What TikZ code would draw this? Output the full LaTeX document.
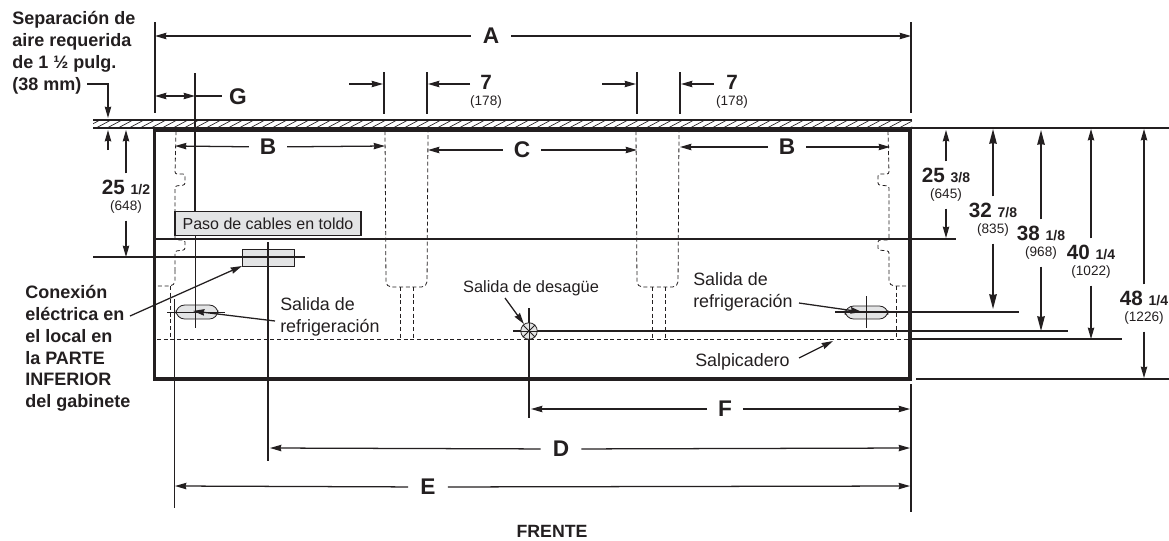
\documentclass[tikz,border=0pt]{standalone}
\usepackage{fontspec}
\setmainfont{Liberation Sans}
\usetikzlibrary{arrows.meta}
\definecolor{ink}{HTML}{231F20}
\definecolor{boxfill}{HTML}{E3E4E5}
\tikzset{
  thinln/.style={draw=ink,line width=.6pt},
  medln/.style={draw=ink,line width=1pt},
  wall/.style={draw=ink,line width=2.6pt},
  dim/.style={draw=ink,line width=.95pt,-{Stealth[length=8.5pt,width=4.8pt,inset=.6pt]}},
  dimB/.style={draw=ink,line width=1pt,-{Stealth[length=11pt,width=5.6pt,inset=.4pt]}},
  dimD/.style={draw=ink,line width=.95pt,{Stealth[length=8.5pt,width=4.8pt,inset=.6pt]}-{Stealth[length=8.5pt,width=4.8pt,inset=.6pt]}},
  hid/.style={draw=ink,line width=.6pt,dash pattern=on 3pt off 2pt},
  notes/.style={font=\fontsize{13.5}{16.4}\selectfont\bfseries,text=ink,align=left,inner sep=0pt},
  call/.style={font=\fontsize{13.4}{16.6}\selectfont,text=ink,align=left,inner sep=0pt},
  letter/.style={font=\fontsize{17}{20}\selectfont\bfseries,text=ink,inner sep=6pt},
  val/.style={text=ink,align=center,inner sep=5pt,font=\fontsize{10.2}{14}\selectfont},
}
\newcommand{\whole}[2]{{\fontsize{15.5}{15}\selectfont\bfseries #1 {\fontsize{10.5}{15}\selectfont #2}}}
\begin{document}
\begin{tikzpicture}[x=.75pt,y=-.75pt]
\useasboundingbox (0,0) rectangle (1169,540);
% reference coordinates
\coordinate (cL) at (154.5,130);
\coordinate (cR) at (910,379);
\coordinate (xL) at (155,36);
\coordinate (xR) at (911,36);
% hatched wall
\begin{scope}
\clip (93,120) rectangle (912,128);
\foreach \x in {85,96,...,915} \draw[thinln,line width=.5pt] (\x,128) -- (\x+15,120);
\end{scope}
\draw[thinln,line width=.8pt] (93,120) -- (912,120);
\draw[medln] (93,128) -- (1169,128);
% hidden outlines
\draw[hid,rounded corners=1.6pt] (176,131) -- (175,174) -- (185,174) -- (185,185) -- (175,186) -- (175,240) -- (185,240) -- (185,250) -- (175,251) -- (175,270);
\draw[hid,rounded corners=4pt] (175,270) -- (175,286) -- (157,286);
\draw[hid] (170,286) -- (170,339);
\draw[hid,rounded corners=1.6pt] (888,131) -- (889,174) -- (878,174) -- (878,185) -- (889,186) -- (889,240) -- (878,240) -- (878,250) -- (889,251) -- (889,270);
\draw[hid,rounded corners=4pt] (889,270) -- (889,286) -- (909,286);
\draw[hid] (896,286) -- (896,339);
\draw[hid,rounded corners=4pt] (385,131) -- (386,287) -- (427,287) -- (428,131);
\draw[hid,rounded corners=4pt] (636,131) -- (637,287) -- (678,287) -- (679,131);
\draw[hid] (400,287) -- (400,339) (413,287) -- (413,339);
\draw[hid] (652,287) -- (652,339) (665,287) -- (665,339);
\draw[hid] (157,339) -- (910,339);
% gray parts
\draw[thinln,fill=boxfill] (242,249) rectangle (294,266);
\draw[thinln,fill=boxfill,rounded corners=6.5pt] (176,305) rectangle (218,319);
\draw[thinln,fill=boxfill,rounded corners=6.5pt] (845,306) rectangle (888,319);
% cabinet
\draw[wall] (cL) rectangle (cR);
% extension lines
\draw[medln] (xL |- 0,22) -- (xL |- 0,113);
\draw[medln] (xR |- 0,22) -- (xR |- 0,113);
\draw[medln] (xR |- 0,384) -- (xR |- 0,512);
\foreach \x in {384,427,637,680} \draw[medln] (\x,72) -- (\x,114);
\draw[medln,line width=1.1pt] (195,73) -- (195,211);
\draw[thinln] (195,236) -- (195,328);
\draw[medln,line width=1.05pt] (268,242) -- (268,461);
\draw[thinln] (174,299) -- (174,508);
\draw[medln] (529,308) -- (529,418);
% horizontal reference lines
\draw[thinln,line width=.8pt] (155,239) -- (956,239);
\draw[medln,line width=1.1pt] (93,257) -- (305,257);
\draw[thinln,line width=.6pt] (167,312) -- (225,312);
\draw[medln] (835,312) -- (1019,312);
\draw[thinln] (866,296) -- (866,328);
\draw[medln] (513,331) -- (1068,331);
\draw[medln,line width=1.2pt] (910,339) -- (1122,339);
\draw[medln] (916,379) -- (1169,379);
% drain
\node[draw=ink,circle,line width=.6pt,fill=boxfill,minimum size=12.4pt,inner sep=0pt] (drain) at (529,331) {};
\foreach \a in {0,45,...,135} \draw[thinln] (drain.\a) -- (drain.\a+180);
% pass-through label
\node[draw=ink,line width=.8pt,fill=boxfill,inner sep=0pt,minimum width=139.5pt,minimum height=18.5pt,font=\fontsize{12}{14}\selectfont,text=ink] (paso) at (268,223.5) {Paso de cables en toldo};
% left notes
\node[notes,anchor=north west] (sep) at (12,11) {Separación de\\aire requerida\\de 1 ½ pulg.\\(38 mm)};
\node[notes,anchor=north west] (con) at (25,285) {Conexión\\eléctrica en\\el local en\\la PARTE\\INFERIOR\\del gabinete};
\coordinate (sepA) at (87,84);
\coordinate (sepB) at (108,84);
\coordinate (sepC) at (108,118);
\draw[dim] (sepA) -- (sepB) -- (sepC);
\coordinate (sepD) at (108,150);
\coordinate (sepE) at (108,130);
\draw[dim] (sepD) -- (sepE);
% callouts
\node[call,anchor=north west] (rl) at (280,297) {Salida de\\refrigeración};
\node[call,anchor=north west] (rr) at (693,272) {Salida de\\refrigeración};
\node[call,anchor=center,font=\fontsize{12.3}{14}\selectfont] (des) at (531,288) {Salida de desagüe};
\node[call,anchor=west] (sal) at (695,362) {Salpicadero};
\node[notes,anchor=center,font=\fontsize{13.3}{15}\selectfont\bfseries] (fre) at (552,531.5) {FRENTE};
\coordinate (conS) at (130,316);
\coordinate (conE) at (242,266);
\draw[dim] (conS) -- (conE);
\coordinate (rlS) at (275,321);
\coordinate (rlE) at (193,311);
\draw[dim] (rlS) -- (rlE);
\coordinate (rrS) at (799,303);
\coordinate (rrE) at (862,312);
\draw[dim] (rrS) -- (rrE);
\coordinate (desS) at (505,298);
\coordinate (salS) at (799,358);
\coordinate (salE) at (833,341);
\draw[dim] (desS) -- (drain);
\draw[dim] (salS) -- (salE);
% letters
\node[letter,inner xsep=9pt] (A) at (491,36) {A};
\draw[dim] (A) -- (xL);
\draw[dim] (A) -- (xR);
\node[letter,inner sep=0pt] (G) at (238,97) {G};
\coordinate (gL) at (155,96);
\coordinate (gM) at (195,96);
\coordinate (gR) at (222,96);
\draw[dimD] (gL) -- (gM);
\draw[medln] (gM) -- (gR);
\node[letter,inner xsep=8pt] (B1) at (268,147) {B};
\draw[dim] (B1) -- (175,146);
\draw[dim] (B1) -- (385,146);
\node[letter,inner xsep=8pt] (C) at (522,150) {C};
\draw[dim] (C) -- (428,150);
\draw[dim] (C) -- (637,150);
\node[letter,inner xsep=8pt] (B2) at (787,147) {B};
\draw[dim] (B2) -- (680,147);
\draw[dim] (B2) -- (890,147);
\node[letter,inner xsep=8pt] (F) at (725,409) {F};
\draw[dim] (F) -- (531,409);
\draw[dim] (F) -- (910,409);
\node[letter,inner xsep=9pt] (D) at (561,449) {D};
\draw[dim] (D) -- (270,448);
\draw[dim] (D) -- (910,448);
\node[letter,inner xsep=9pt] (E) at (428,487) {E};
\draw[dim] (E) -- (175,486);
\draw[dim] (E) -- (910,486);
% sevens
\node[val,inner sep=0pt] (s1) at (486,92) {\whole{7}{}\\[-2pt](178)};
\node[val,inner sep=0pt] (s2) at (732,92) {\whole{7}{}\\[-2pt](178)};
\draw[dim] (349,84) -- (383,84);
\draw[dim] (470,84) -- (428,84);
\draw[dim] (602,84) -- (636,84);
\draw[dim] (714,84) -- (681,84);
% fractional dimensions
\node[val] (v1) at (126,197) {\whole{25}{1/2}\\[-2pt](648)};
\draw[dim] (v1) -- (126,130);
\draw[dim] (v1) -- (126,257);
\node[val] (v2) at (946,185) {\whole{25}{3/8}\\[-2pt](645)};
\draw[dim] (v2) -- (946,130);
\draw[dim] (v2) -- (946,238);
\node[val] (v3) at (993,220) {\whole{32}{7/8}\\[-2pt](835)};
\draw[dimB] (v3) -- (993,129);
\draw[dimB] (v3) -- (993,309);
\node[val] (v4) at (1041,243) {\whole{38}{1/8}\\[-2pt](968)};
\draw[dimB] (v4) -- (1041,130);
\draw[dimB] (v4) -- (1041,331);
\node[val] (v5) at (1091,262) {\whole{40}{1/4}\\[-2pt](1022)};
\draw[dim] (v5) -- (1091,129);
\draw[dim] (v5) -- (1091,339);
\node[val] (v6) at (1144,308) {\whole{48}{1/4}\\[-2pt](1226)};
\draw[dim] (v6) -- (1144,129);
\draw[dim] (v6) -- (1144,378);
\end{tikzpicture}
\end{document}
